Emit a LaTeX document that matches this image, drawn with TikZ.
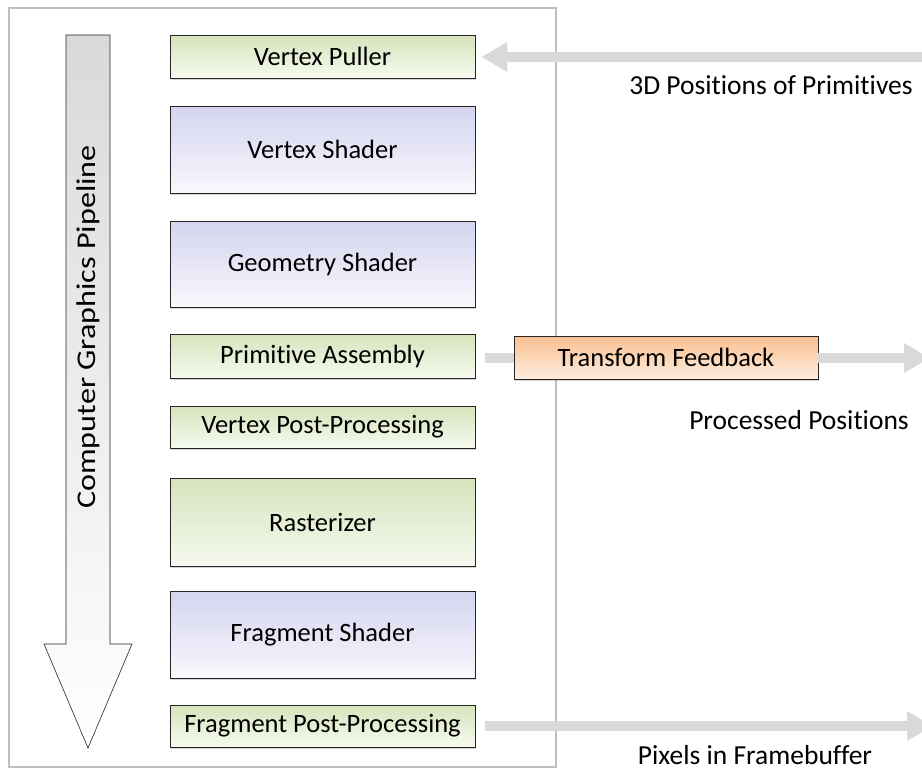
\documentclass[tikz,border=0pt]{standalone}
\usepackage{fontspec}
\setmainfont{Carlito}[Ligatures=NoCommon]
\usetikzlibrary{arrows.meta,shadows}
\definecolor{arrgray}{RGB}{217,217,217}
\definecolor{framegray}{RGB}{191,191,191}
\definecolor{greentop}{RGB}{214,227,188}
\definecolor{greenbot}{RGB}{246,250,239}
\definecolor{bluetop}{RGB}{212,212,240}
\definecolor{bluebot}{RGB}{248,248,253}
\definecolor{orangetop}{RGB}{250,192,144}
\definecolor{orangebot}{RGB}{253,236,222}
\tikzset{
  stage/.style={draw=black!85, line width=0.8pt, minimum width=305pt, inner sep=0pt,
    font=\fontsize{26.5}{30}\selectfont,
    drop shadow={opacity=0.35, shadow xshift=1pt, shadow yshift=-1.5pt}},
  greenbox/.style={stage, top color=greentop, bottom color=greenbot},
  bluebox/.style={stage, top color=bluetop, bottom color=bluebot},
  orangebox/.style={stage, top color=orangetop, bottom color=orangebot, minimum width=304pt},
  flow/.style={draw=arrgray, line width=10pt},
  flowarrow/.style={flow, -{Triangle[width=28pt,length=26pt]}},
  lbl/.style={font=\fontsize{27.5}{32}\selectfont, inner sep=0pt}
}
\begin{document}
\begin{tikzpicture}[x=1pt,y=-1pt]
\useasboundingbox (0,0) rectangle (922,774);
\clip (0,0) rectangle (922,774);
% frame
\draw[framegray, line width=2pt] (9,8) rectangle (556,767);
% pipeline arrow
\draw[black!85, line width=0.6pt, top color=arrgray, bottom color=white]
  (66,35) -- (110,35) -- (110,644) -- (132,644) -- (88,748) -- (44,644) -- (66,644) -- cycle;
\node[lbl, rotate=90, font=\fontsize{27}{32}\selectfont] (pipe) at (88,327) {\scalebox{1.19}[1]{Computer Graphics Pipeline}};
% stages
\node[greenbox, minimum height=43pt] (vp) at (322.5,56.5) {Vertex Puller};
\node[bluebox, minimum height=87pt] (vs) at (322.5,149.5) {Vertex Shader};
\node[bluebox, minimum height=86pt] (gs) at (322.5,264) {Geometry Shader};
\node[greenbox, minimum height=44pt] (pa) at (322.5,356) {Primitive Assembly};
\node[greenbox, minimum height=42pt] (vpp) at (322.5,427) {Vertex Post-Processing};
\node[greenbox, minimum height=88pt] (ra) at (322.5,522) {Rasterizer};
\node[bluebox, minimum height=87pt] (fs) at (322.5,634.5) {Fragment Shader};
\node[greenbox, minimum height=42pt] (fpp) at (322.5,726) {Fragment Post-Processing};
\node[orangebox, minimum height=43pt] (tf) at (666,357.5) {Transform Feedback};
% external coordinates
\coordinate (inR) at (930,57);
\coordinate (tfR) at (930,358);
\coordinate (pxR) at (933,726);
% connectors
\draw[flowarrow, shorten >=6pt] (inR) -- (vp.east |- inR);
\draw[flow] ([xshift=10pt]pa.east |- tfR) -- (tf.west |- tfR);
\draw[flowarrow] (tf.east |- tfR) -- (tfR);
\draw[flowarrow] ([xshift=10pt]fpp.east) -- (pxR);
% labels
\node[lbl] (l1) at (771,85) {3D Positions of Primitives};
\node[lbl] (l2) at (799,420) {Processed Positions};
\node[lbl] (l3) at (755,755) {Pixels in Framebuffer};
\end{tikzpicture}
\end{document}
